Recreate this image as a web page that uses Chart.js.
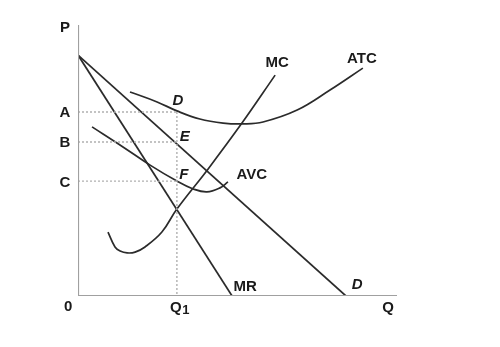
<!DOCTYPE html>
<html>
<head>
<meta charset="utf-8">
<script src="https://cdn.jsdelivr.net/npm/chart.js@4"></script>
<style>
html,body{margin:0;padding:0;background:#fff;}
#c{display:block;}
</style>
</head>
<body>
<canvas id="c" width="500" height="347"></canvas>
<script>
// Price levels and output
const Q1 = 31.0;
const priceA = 67.9, priceB = 56.8, priceC = 42.4;
const Q_MAX = 100, P_MAX = 100;

// Demand and marginal revenue (linear)
const demandPts = [{x:0, y:88.9}, {x:84.0, y:0}];
const mrPts = [{x:0, y:88.9}, {x:48.3, y:0}];

// Cost curves
const mcQ = [9.4, 11.6, 13.2, 15.4, 17.9, 21.0, 26.3, 31.0, 40.8, 51.4, 61.8];
const mcP = [23.6, 18.1, 16.6, 15.9, 16.2, 18.1, 23.6, 32.1, 46.9, 63.8, 81.5];
const atcQ = [16.3, 24.8, 31.0, 38.2, 45.5, 51.7, 58.0, 68.7, 79.0, 89.3];
const atcP = [75.3, 71.6, 68.3, 65.3, 63.8, 63.5, 64.2, 68.6, 76.0, 84.1];
const avcQ = [4.4, 14.1, 22.6, 31.0, 36.1, 40.4, 44.5, 47.0];
const avcP = [62.4, 55.0, 48.3, 42.4, 39.5, 38.4, 39.9, 42.1];

// Text labels: [text, x, y, italic]
const labels = [
  ['P', -4.1, 98.9, false],
  ['A', -4.1, priceA - 0.5, false],
  ['B', -4.1, priceB - 0.4, false],
  ['C', -4.1, priceC - 0.7, false],
  ['0', -3.1, -4.1, false],
  ['Q', 97.2, -4.4, false],
  ['MR', 52.4, 3.3, false],
  ['D', 87.5, 4.1, true],
  ['MC', 62.4, 86.0, false],
  ['ATC', 89.0, 87.5, false],
  ['D', 31.3, 72.0, true],
  ['E', 33.5, 58.7, true],
  ['F', 33.2, 44.6, true],
  ['AVC', 54.5, 44.6, false]
];

const zip = (xs, ys) => xs.map((x, i) => ({x, y: ys[i]}));
const curve = '#2b2b2b';
const lineDs = (data, extra) => Object.assign({
  data, showLine: true, borderColor: curve, borderWidth: 1.7,
  pointRadius: 0, fill: false
}, extra || {});

const datasets = [
  // axes
  lineDs([{x:0, y:P_MAX}, {x:0, y:0}, {x:Q_MAX, y:0}], {borderColor:'#a0a0a0', borderWidth:2.2}),
  // dotted guides
  lineDs([{x:0, y:priceA}, {x:Q1, y:priceA}], {borderColor:'#b0b0b0', borderWidth:1.4, borderDash:[2,2]}),
  lineDs([{x:0, y:priceB}, {x:Q1, y:priceB}], {borderColor:'#b0b0b0', borderWidth:1.4, borderDash:[2,2]}),
  lineDs([{x:0, y:priceC}, {x:Q1, y:priceC}], {borderColor:'#b0b0b0', borderWidth:1.4, borderDash:[2,2]}),
  lineDs([{x:Q1, y:priceA}, {x:Q1, y:0}], {borderColor:'#b0b0b0', borderWidth:1.4, borderDash:[2,2]}),
  lineDs(demandPts),
  lineDs(mrPts),
  lineDs(zip(mcQ, mcP), {tension:0.4}),
  lineDs(zip(atcQ, atcP), {tension:0.4}),
  lineDs(zip(avcQ, avcP), {tension:0.4})
];

const FONT = '"Liberation Sans", Arial, sans-serif';
const labelPlugin = {
  id: 'labels',
  afterDatasetsDraw(chart) {
    const ctx = chart.ctx, xs = chart.scales.x, ys = chart.scales.y;
    ctx.save();
    ctx.fillStyle = '#1a1a1a';
    ctx.textAlign = 'center';
    ctx.textBaseline = 'middle';
    labels.forEach(([t, x, y, it]) => {
      ctx.font = (it ? 'italic ' : '') + 'bold 15px ' + FONT;
      ctx.fillText(t, xs.getPixelForValue(x), ys.getPixelForValue(y));
    });
    // Q1 with subscript
    const qx = xs.getPixelForValue(Q1), qy = ys.getPixelForValue(-4.4);
    ctx.font = 'bold 15px ' + FONT;
    ctx.fillText('Q', qx - 1, qy);
    ctx.font = 'bold 13px ' + FONT;
    ctx.fillText('1', qx + 9, qy + 2);
    ctx.restore();
  }
};

new Chart(document.getElementById('c'), {
  type: 'scatter',
  data: { datasets },
  options: {
    responsive: false,
    animation: false,
    layout: { padding: { left: 78, right: 103, top: 25, bottom: 51 } },
    plugins: { legend: {display:false}, tooltip: {enabled:false} },
    scales: {
      x: { type:'linear', min:0, max:Q_MAX, display:false },
      y: { type:'linear', min:0, max:P_MAX, display:false }
    }
  },
  plugins: [labelPlugin]
});
</script>
</body>
</html>
